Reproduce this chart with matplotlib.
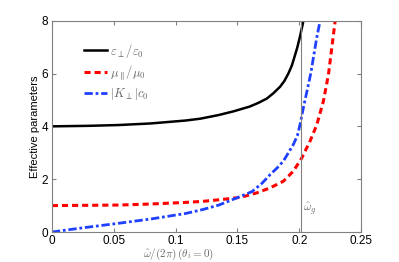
import matplotlib
matplotlib.use('Agg')
import matplotlib.pyplot as plt
import numpy as np

plt.rcParams['font.family'] = ['Liberation Sans', 'DejaVu Sans']
plt.rcParams['mathtext.fontset'] = 'cm'

# valores
w_eps = [0.0, 0.03, 0.054, 0.08, 0.108, 0.12, 0.135, 0.147, 0.16, 0.167, 0.1737, 0.179,
         0.1845, 0.188, 0.1912, 0.194, 0.1966, 0.1985, 0.2006, 0.2034]
eps = [4.0, 4.02, 4.05, 4.11, 4.22, 4.29, 4.43, 4.57, 4.75, 4.89, 5.05, 5.25,
       5.5, 5.72, 6.0, 6.3, 6.7, 7.0, 7.4, 8.0]

w_mu = [0.0, 0.054, 0.08, 0.108, 0.122, 0.135, 0.143, 0.15, 0.1564, 0.1656, 0.1764, 0.1871,
        0.1952, 0.202, 0.2087, 0.2142, 0.2195, 0.2236, 0.2263, 0.229]
mu = [1.0, 1.02, 1.06, 1.12, 1.16, 1.22, 1.26, 1.30, 1.36, 1.48, 1.67, 1.92,
      2.30, 2.80, 3.44, 4.06, 4.95, 5.96, 6.97, 7.98]

w_k = [0.0, 0.027, 0.054, 0.081, 0.108, 0.122, 0.135, 0.15, 0.1618, 0.17, 0.1764, 0.182,
       0.1871, 0.1952, 0.1985, 0.2006, 0.2033, 0.2074, 0.2095, 0.2114, 0.2141, 0.2168]
k = [0.0, 0.17, 0.33, 0.50, 0.70, 0.85, 1.02, 1.30, 1.53, 1.85, 2.17, 2.42,
     2.68, 3.31, 3.65, 4.06, 4.70, 5.58, 6.05, 6.59, 7.35, 7.98]

w_g = 0.2015

fig = plt.figure(figsize=(3.99, 2.62), dpi=100)
ax = fig.add_axes([0.130, 0.1145, 0.775, 0.8065])

ax.plot(w_eps, eps, color='black', lw=1.8, solid_joinstyle='round',
        label=r'$\varepsilon_\perp/\varepsilon_0$')
ax.plot(w_mu, mu, color='red', lw=2.2, ls=(0, (2.0, 1.3)), dash_joinstyle='round',
        label=r'$\mu_\parallel/\mu_0$')
ax.plot(w_k, k, color='#2040ff', lw=2.0, ls=(0, (3.0, 1.0, 1.0, 1.0)), dash_joinstyle='round',
        label=r'$|K_\perp|c_0$')
ax.axvline(w_g, color='grey', lw=0.8)
ax.text(w_g + 0.0015, 0.9, r'$\hat{\omega}_g$', color='dimgrey', fontsize=8.5, va='center')

ax.set_xlim(0, 0.25)
ax.set_ylim(0, 8)
ax.set_xticks([0, 0.05, 0.1, 0.15, 0.2, 0.25])
ax.set_xticklabels(['0', '0.05', '0.1', '0.15', '0.2', '0.25'])
ax.set_yticks([0, 2, 4, 6, 8])
ax.tick_params(direction='in', top=True, right=True, labelsize=8.5, length=3, color='grey', pad=2.5)
for s in ax.spines.values():
    s.set_color('grey')
ax.set_ylabel('Effective parameters', fontsize=8, labelpad=1)
ax.set_xlabel(r'$\hat{\omega}/(2\pi)\,(\theta_i=0)$', color='dimgrey', fontsize=8)
ax.xaxis.set_label_coords(0.408, -0.068)

leg = ax.legend(loc='upper left', bbox_to_anchor=(0.105, 0.9), frameon=False, fontsize=9,
                borderpad=0, borderaxespad=0, handlelength=1.85, handletextpad=0.2,
                labelspacing=0.3)
for t in leg.get_texts():
    t.set_color('dimgrey')

fig.savefig('out.png', dpi=100)
